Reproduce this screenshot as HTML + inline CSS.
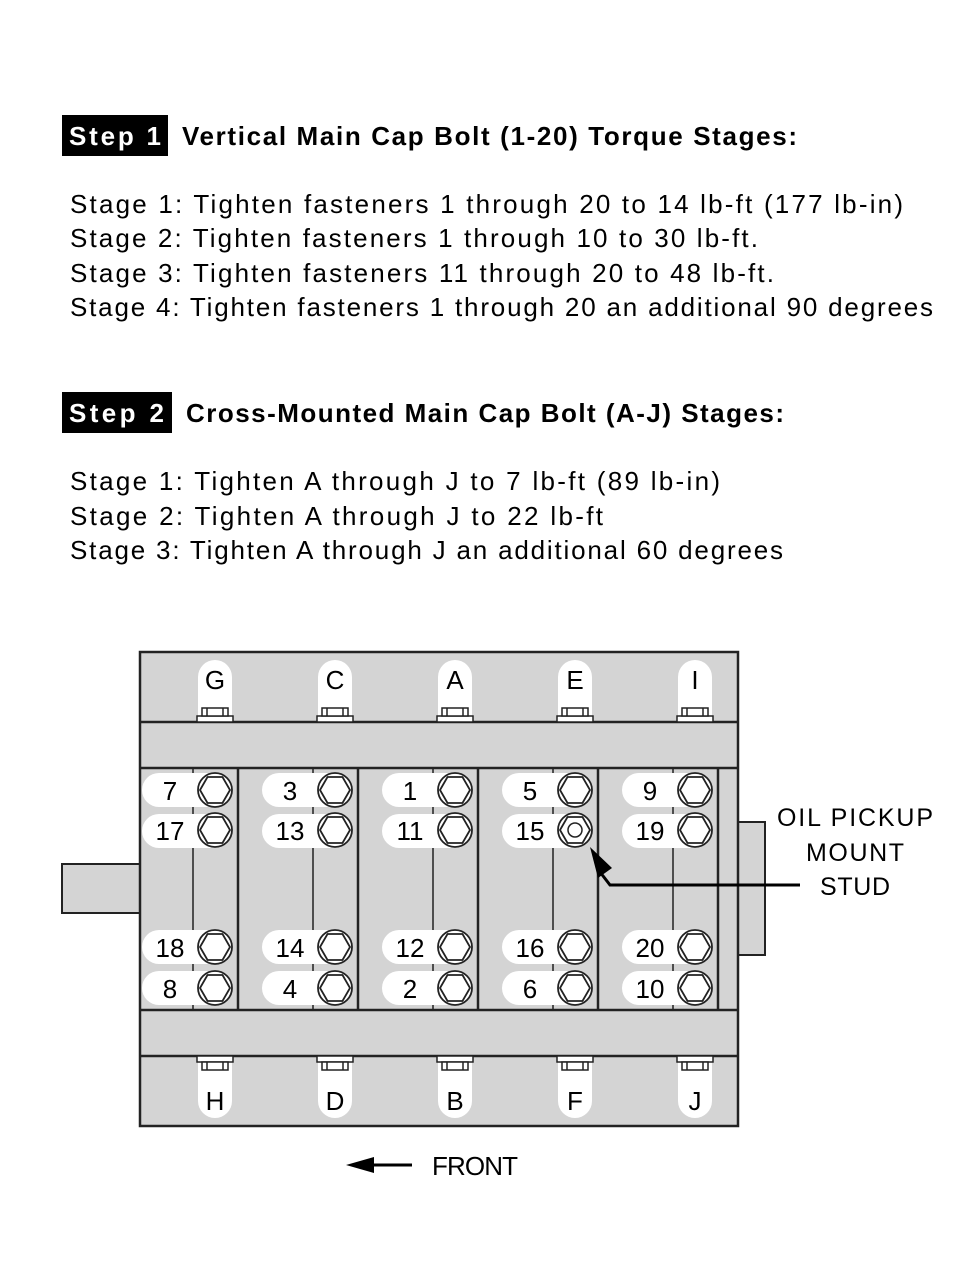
<!DOCTYPE html>
<html><head><style>body{margin:0;background:#fff}svg{display:block}</style></head><body>
<svg width="980" height="1269" viewBox="0 0 980 1269" xmlns="http://www.w3.org/2000/svg" font-family="Liberation Sans, sans-serif">
<rect x="0" y="0" width="980" height="1269" fill="#fff"/>
<rect x="62" y="115" width="106" height="41" fill="#000"/>
<text x="69" y="145" font-size="26" font-weight="bold" fill="#fff" textLength="92">Step 1</text>
<text x="182" y="145" font-size="26" font-weight="bold" textLength="615">Vertical Main Cap Bolt (1-20) Torque Stages:</text>
<g font-size="26">
<text x="70" y="213" textLength="833">Stage 1: Tighten fasteners 1 through 20 to 14 lb-ft (177 lb-in)</text>
<text x="70" y="247" textLength="688">Stage 2: Tighten fasteners 1 through 10 to 30 lb-ft.</text>
<text x="70" y="282" textLength="704">Stage 3: Tighten fasteners 11 through 20 to 48 lb-ft.</text>
<text x="70" y="316" textLength="863">Stage 4: Tighten fasteners 1 through 20 an additional 90 degrees</text>
</g>
<rect x="62" y="392" width="110" height="41" fill="#000"/>
<text x="69" y="422" font-size="26" font-weight="bold" fill="#fff" textLength="95">Step 2</text>
<text x="186" y="422" font-size="26" font-weight="bold" textLength="598">Cross-Mounted Main Cap Bolt (A-J) Stages:</text>
<g font-size="26">
<text x="70" y="490" textLength="650">Stage 1: Tighten A through J to 7 lb-ft (89 lb-in)</text>
<text x="70" y="525" textLength="533">Stage 2: Tighten A through J to 22 lb-ft</text>
<text x="70" y="559" textLength="713">Stage 3: Tighten A through J an additional 60 degrees</text>
</g>
<rect x="62" y="864" width="78" height="49" fill="#d4d4d4" stroke="#222" stroke-width="2"/>
<rect x="738" y="822" width="27" height="133" fill="#d4d4d4" stroke="#222" stroke-width="2"/>
<rect x="140" y="652" width="598" height="474" fill="#d4d4d4" stroke="#222" stroke-width="2.5"/>
<line x1="140" y1="722" x2="738" y2="722" stroke="#222" stroke-width="2.5"/>
<line x1="140" y1="768" x2="738" y2="768" stroke="#222" stroke-width="2.5"/>
<line x1="140" y1="1010" x2="738" y2="1010" stroke="#222" stroke-width="2.5"/>
<line x1="140" y1="1056" x2="738" y2="1056" stroke="#222" stroke-width="2.5"/>
<g stroke="#222" stroke-width="2.5">
<line x1="238" y1="768" x2="238" y2="1010"/><line x1="358" y1="768" x2="358" y2="1010"/>
<line x1="478" y1="768" x2="478" y2="1010"/><line x1="598" y1="768" x2="598" y2="1010"/>
<line x1="718" y1="768" x2="718" y2="1010"/>
</g>
<g stroke="#222" stroke-width="1.5">
<line x1="193" y1="768" x2="193" y2="1010"/><line x1="313" y1="768" x2="313" y2="1010"/>
<line x1="433" y1="768" x2="433" y2="1010"/><line x1="553" y1="768" x2="553" y2="1010"/>
<line x1="673" y1="768" x2="673" y2="1010"/>
</g>
<defs>
<g id="bolt"><circle r="17" fill="#fff" stroke="#222" stroke-width="1.8"/><polygon points="15,0 7.5,13 -7.5,13 -15,0 -7.5,-13 7.5,-13" fill="none" stroke="#222" stroke-width="1.8"/></g>
<g id="top"><path d="M-17,720 V677 A17,17 0 0 1 17,677 V720 Z" fill="#fff"/><rect x="-18" y="716" width="36" height="6" fill="#fff" stroke="#222" stroke-width="1.5"/><rect x="-13" y="708" width="26" height="8" fill="#fff" stroke="#222" stroke-width="1.5"/><line x1="-8" y1="708" x2="-8" y2="716" stroke="#222" stroke-width="1.5"/><line x1="8" y1="708" x2="8" y2="716" stroke="#222" stroke-width="1.5"/></g>
<g id="bot"><path d="M-17,1058 V1101 A17,17 0 0 0 17,1101 V1058 Z" fill="#fff"/><rect x="-18" y="1056" width="36" height="6" fill="#fff" stroke="#222" stroke-width="1.5"/><rect x="-13" y="1062" width="26" height="8" fill="#fff" stroke="#222" stroke-width="1.5"/><line x1="-8" y1="1062" x2="-8" y2="1070" stroke="#222" stroke-width="1.5"/><line x1="8" y1="1062" x2="8" y2="1070" stroke="#222" stroke-width="1.5"/></g>
</defs>
<g font-size="26" text-anchor="middle">
<use href="#top" x="215"/><use href="#top" x="335"/><use href="#top" x="455"/><use href="#top" x="575"/><use href="#top" x="695"/>
<text x="215" y="689">G</text><text x="335" y="689">C</text><text x="455" y="689">A</text><text x="575" y="689">E</text><text x="695" y="689">I</text>
<use href="#bot" x="215"/><use href="#bot" x="335"/><use href="#bot" x="455"/><use href="#bot" x="575"/><use href="#bot" x="695"/>
<text x="215" y="1110">H</text><text x="335" y="1110">D</text><text x="455" y="1110">B</text><text x="575" y="1110">F</text><text x="695" y="1110">J</text>
</g>
<g fill="#fff">
<rect x="142" y="773" width="90" height="34" rx="17"/><rect x="142" y="814" width="90" height="34" rx="17"/><rect x="142" y="930" width="90" height="34" rx="17"/><rect x="142" y="971" width="90" height="34" rx="17"/>
<rect x="262" y="773" width="90" height="34" rx="17"/><rect x="262" y="814" width="90" height="34" rx="17"/><rect x="262" y="930" width="90" height="34" rx="17"/><rect x="262" y="971" width="90" height="34" rx="17"/>
<rect x="382" y="773" width="90" height="34" rx="17"/><rect x="382" y="814" width="90" height="34" rx="17"/><rect x="382" y="930" width="90" height="34" rx="17"/><rect x="382" y="971" width="90" height="34" rx="17"/>
<rect x="502" y="773" width="90" height="34" rx="17"/><rect x="502" y="814" width="90" height="34" rx="17"/><rect x="502" y="930" width="90" height="34" rx="17"/><rect x="502" y="971" width="90" height="34" rx="17"/>
<rect x="622" y="773" width="90" height="34" rx="17"/><rect x="622" y="814" width="90" height="34" rx="17"/><rect x="622" y="930" width="90" height="34" rx="17"/><rect x="622" y="971" width="90" height="34" rx="17"/>
</g>
<g>
<use href="#bolt" x="215" y="790"/><use href="#bolt" x="215" y="830"/><use href="#bolt" x="215" y="947"/><use href="#bolt" x="215" y="988"/>
<use href="#bolt" x="335" y="790"/><use href="#bolt" x="335" y="830"/><use href="#bolt" x="335" y="947"/><use href="#bolt" x="335" y="988"/>
<use href="#bolt" x="455" y="790"/><use href="#bolt" x="455" y="830"/><use href="#bolt" x="455" y="947"/><use href="#bolt" x="455" y="988"/>
<use href="#bolt" x="575" y="790"/><use href="#bolt" x="575" y="830"/><use href="#bolt" x="575" y="947"/><use href="#bolt" x="575" y="988"/>
<use href="#bolt" x="695" y="790"/><use href="#bolt" x="695" y="830"/><use href="#bolt" x="695" y="947"/><use href="#bolt" x="695" y="988"/>
<circle cx="575" cy="830" r="7" fill="#fff" stroke="#222" stroke-width="1.5"/>
</g>
<g font-size="26" text-anchor="middle">
<text x="170" y="800">7</text><text x="170" y="840">17</text><text x="170" y="957">18</text><text x="170" y="998">8</text>
<text x="290" y="800">3</text><text x="290" y="840">13</text><text x="290" y="957">14</text><text x="290" y="998">4</text>
<text x="410" y="800">1</text><text x="410" y="840">11</text><text x="410" y="957">12</text><text x="410" y="998">2</text>
<text x="530" y="800">5</text><text x="530" y="840">15</text><text x="530" y="957">16</text><text x="530" y="998">6</text>
<text x="650" y="800">9</text><text x="650" y="840">19</text><text x="650" y="957">20</text><text x="650" y="998">10</text>
</g>
<polyline points="800,885 610,885 600,872" fill="none" stroke="#000" stroke-width="3"/>
<polygon points="590,847 612,868 598,878" fill="#000"/>
<g font-size="25" text-anchor="middle">
<text x="855" y="826" textLength="156">OIL PICKUP</text><text x="855" y="861" textLength="98">MOUNT</text><text x="855" y="895" textLength="70">STUD</text>
</g>
<line x1="370" y1="1165" x2="412" y2="1165" stroke="#000" stroke-width="3"/>
<polygon points="346,1165 374,1157 374,1173" fill="#000"/>
<text x="432" y="1175" font-size="26" textLength="86">FRONT</text>
</svg>
</body></html>
